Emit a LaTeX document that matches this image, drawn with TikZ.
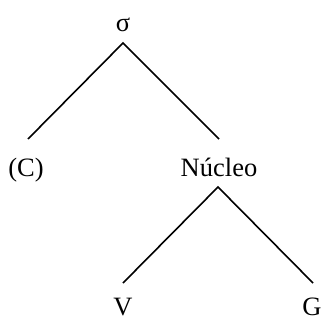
\documentclass[tikz,border=0pt]{standalone}
\usepackage{fontspec}
\setmainfont{Liberation Serif}
\begin{document}
\begin{tikzpicture}[x=1pt,y=-1pt,
  lbl/.style={inner sep=0pt,anchor=base,font=\fontsize{26.5}{30}\selectfont},
  edge/.style={line width=1.6pt}]
\useasboundingbox (0,0) rectangle (323,321);
\node[lbl] (s) at (123,32) {σ};
\node[lbl] (c) at (26,176) {(C)};
\node[lbl] (n) at (219,176) {Núcleo};
\node[lbl] (v) at (123,315) {V};
\node[lbl] (g) at (312,315) {G};
\coordinate (sa) at (123,43);
\coordinate (sl) at (28,139);
\coordinate (sr) at (219,139);
\coordinate (na) at (218,187);
\coordinate (nl) at (123,283);
\coordinate (nr) at (313,283);
\draw[edge] (sl) -- (sa) -- (sr);
\draw[edge] (nl) -- (na) -- (nr);
\end{tikzpicture}
\end{document}
